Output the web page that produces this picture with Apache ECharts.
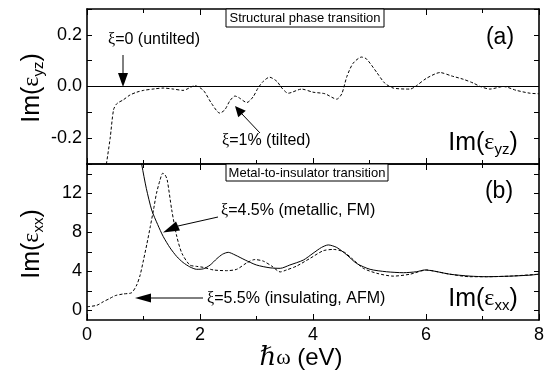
<!DOCTYPE html>
<html>
<head>
<meta charset="utf-8">
<script src="https://cdn.jsdelivr.net/npm/echarts@6/dist/echarts.min.js"></script>
<style>
  html, body { margin: 0; padding: 0; background: #fff; }
  #chart { width: 553px; height: 379px; }
</style>
</head>
<body>
<div id="chart"></div>
<script>
// photon energy axis (eV)
const energyLabels = [0, 2, 4, 6, 8];

// (a) Im(eps_yz)
const yzTicks = [-0.3, -0.2, -0.1, 0, 0.1, 0.2, 0.3];
const yzLabels = [-0.2, 0, 0.2];
const untiltedE = [0, 8];
const untiltedIm = [0, 0];
const tiltedE = [0.33, 0.41, 0.47, 0.53, 0.64, 0.76, 0.88, 1.0, 1.2, 1.35, 1.53, 1.7, 1.91, 2.06, 2.2, 2.35, 2.44, 2.53, 2.62, 2.68, 2.83, 2.94, 3.03, 3.12, 3.23, 3.36, 3.45, 3.56, 3.8, 4.0, 4.21, 4.42, 4.51, 4.6, 4.71, 4.86, 4.95, 5.13, 5.27, 5.42, 5.72, 5.83, 6.01, 6.25, 6.45, 6.66, 6.84, 6.96, 7.13, 7.37, 7.6, 7.84, 8.0];
const tiltedIm = [-0.32, -0.2, -0.09, -0.066, -0.052, -0.033, -0.022, -0.015, -0.009, -0.006, -0.01, -0.015, 0.003, -0.015, -0.064, -0.103, -0.09, -0.055, -0.037, -0.042, -0.062, -0.04, -0.005, 0.02, 0.036, 0.02, -0.006, -0.026, -0.01, -0.022, -0.028, -0.049, -0.028, 0.039, 0.09, 0.114, 0.106, 0.054, 0.013, -0.006, -0.01, 0.003, 0.032, 0.054, 0.041, 0.028, 0.013, 0, -0.01, 0, -0.015, -0.026, -0.028];

// (b) Im(eps_xx)
const xxTicks = [0, 2, 4, 6, 8, 10, 12, 14];
const xxLabels = [0, 4, 8, 12];
const metallicE = [0.95, 0.97, 1.05, 1.145, 1.25, 1.35, 1.47, 1.59, 1.7, 1.82, 1.94, 2.06, 2.18, 2.3, 2.4, 2.5, 2.62, 2.8, 3.0, 3.24, 3.42, 3.59, 3.83, 4.0, 4.15, 4.27, 4.42, 4.6, 4.77, 5.01, 5.3, 5.6, 5.83, 5.98, 6.13, 6.42, 6.78, 7.07, 7.49, 7.84, 8.0];
const metallicIm = [15.6, 14.9, 12.5, 10.28, 8.8, 7.55, 6.4, 5.5, 4.9, 4.45, 4.2, 4.25, 4.64, 5.3, 5.75, 5.94, 5.67, 5.15, 4.64, 4.35, 4.3, 4.64, 5.15, 5.84, 6.44, 6.7, 6.44, 5.67, 4.81, 4.2, 3.95, 3.85, 3.95, 4.13, 4.03, 3.7, 3.5, 3.44, 3.5, 3.6, 3.7];
const insulatingE = [0, 0.17, 0.29, 0.4, 0.5, 0.64, 0.79, 0.88, 0.94, 1.0, 1.06, 1.12, 1.18, 1.23, 1.29, 1.34, 1.38, 1.42, 1.5, 1.59, 1.68, 1.82, 1.94, 2.06, 2.24, 2.47, 2.65, 2.83, 2.97, 3.12, 3.27, 3.42, 3.53, 3.71, 3.95, 4.18, 4.36, 4.54, 4.71, 4.89, 5.13, 5.42, 5.72, 6.01, 6.19, 6.42, 6.78, 7.07, 7.49, 8.0];
const insulatingIm = [0.36, 0.5, 0.88, 1.2, 1.5, 1.67, 1.8, 2.59, 3.6, 5.15, 6.8, 8.57, 10.4, 12.0, 13.3, 14.05, 13.9, 13.36, 10.28, 7.55, 5.84, 4.64, 4.5, 4.4, 4.13, 4.06, 4.2, 4.87, 5.2, 5.04, 4.53, 3.93, 4.13, 4.53, 5.33, 6.1, 6.24, 6.0, 5.2, 4.3, 3.79, 3.5, 3.7, 4.13, 3.96, 3.7, 3.44, 3.44, 3.5, 3.7];

const SANS = '"Liberation Sans", Arial, sans-serif';
const SERIF = '"Liberation Serif", "DejaVu Serif", serif';
const frame = { lineStyle: { color: '#000', width: 1.6 } };

const zip = (xs, ys) => xs.map((x, i) => [x, ys[i]]);

function xAx(grid, pos, labels) {
  return {
    type: 'value', gridIndex: grid, position: pos, min: 0, max: 8, interval: 2,
    axisLine: { show: true, onZero: false, ...frame },
    axisTick: { show: true, inside: true, length: 6, lineStyle: { color: '#000', width: 1 } },
    minorTick: { show: true, splitNumber: 2, length: 4, lineStyle: { color: '#000', width: 1 } },
    axisLabel: labels ? { show: true, color: '#000', fontSize: 18, fontFamily: SANS, margin: 6 } : { show: false },
    splitLine: { show: false }
  };
}

function yAx(grid, pos, min, max, ticks, labels, fmt) {
  return {
    type: 'value', gridIndex: grid, position: pos, min: min, max: max,
    axisLine: { show: true, onZero: false, ...frame },
    axisTick: { show: true, inside: true, length: 5, customValues: ticks, lineStyle: { color: '#000', width: 1 } },
    axisLabel: labels
      ? { show: true, customValues: labels, color: '#000', fontSize: 18, fontFamily: SANS, margin: 5, formatter: fmt }
      : { show: false },
    splitLine: { show: false }
  };
}

const chart = echarts.init(document.getElementById('chart'));

function txt(x, y, text, size, extra) {
  return {
    type: 'text', x: x, y: y, z: 100,
    style: Object.assign({ text: text, fontSize: size, fontFamily: SANS, fill: '#000', align: 'left', verticalAlign: 'middle' }, extra || {})
  };
}

function imLabel(x, y, sub, rot) {
  return {
    type: 'text', x: x, y: y, z: 100, rotation: rot || 0,
    style: {
      text: '{a|Im(}{e|ε}{s|' + sub + '}{a|)}',
      align: 'center', verticalAlign: 'middle', fill: '#000',
      rich: {
        a: { fontSize: 25, fontFamily: SANS, fill: '#000' },
        e: { fontSize: 24, fontFamily: SERIF, fill: '#000' },
        s: { fontSize: 15, fontFamily: SANS, fill: '#000', padding: [14, 0, 0, 0] }
      }
    }
  };
}

function xiLabel(x, y, rest) {
  return {
    type: 'text', x: x, y: y, z: 100,
    style: {
      text: '{g|ξ}{t|' + rest + '}', align: 'left', verticalAlign: 'middle', fill: '#000',
      rich: {
        g: { fontSize: 16, fontFamily: SERIF, fill: '#000' },
        t: { fontSize: 16, fontFamily: SANS, fill: '#000' }
      }
    }
  };
}

function boxLabel(x, y, w, h, text) {
  return [
    { type: 'rect', z: 90, shape: { x: x, y: y, width: w, height: h }, style: { fill: '#fff', stroke: '#000', lineWidth: 1 } },
    txt(x + w / 2, y + h / 2 + 0.5, text, 13, { align: 'center' })
  ];
}

function arrow(x1, y1, bx, by, tip, half) {
  // shaft from (x1,y1) to base (bx,by), head ending at tip
  const dx = tip[0] - bx, dy = tip[1] - by;
  const len = Math.hypot(dx, dy);
  const nx = -dy / len * half, ny = dx / len * half;
  return [
    { type: 'line', z: 95, shape: { x1: x1, y1: y1, x2: bx, y2: by }, style: { stroke: '#000', lineWidth: 1 } },
    { type: 'polygon', z: 95, shape: { points: [[bx + nx, by + ny], [bx - nx, by - ny], tip] }, style: { fill: '#000' } }
  ];
}

chart.setOption({
  animation: false,
  backgroundColor: '#fff',
  grid: [
    { left: 87, top: 9, width: 452, height: 155 },
    { left: 87, top: 164, width: 452, height: 156 }
  ],
  xAxis: [
    xAx(0, 'bottom', false), xAx(0, 'top', false),
    xAx(1, 'bottom', true), xAx(1, 'top', false)
  ],
  yAxis: [
    yAx(0, 'left', -0.3, 0.3, yzTicks, yzLabels, v => v.toFixed(1)),
    yAx(0, 'right', -0.3, 0.3, yzTicks, null),
    yAx(1, 'left', -1, 15, xxTicks, xxLabels, v => String(v)),
    yAx(1, 'right', -1, 15, xxTicks, null)
  ],
  series: [
    {
      type: 'line', xAxisIndex: 0, yAxisIndex: 0, data: zip(untiltedE, untiltedIm),
      showSymbol: false, lineStyle: { color: '#000', width: 1 }
    },
    {
      type: 'line', xAxisIndex: 0, yAxisIndex: 0, data: zip(tiltedE, tiltedIm),
      showSymbol: false, smooth: 0.25, clip: true,
      lineStyle: { color: '#000', width: 1, type: [3, 2] }
    },
    {
      type: 'line', xAxisIndex: 2, yAxisIndex: 2, data: zip(metallicE, metallicIm),
      showSymbol: false, smooth: 0.25, clip: true,
      lineStyle: { color: '#000', width: 1 }
    },
    {
      type: 'line', xAxisIndex: 2, yAxisIndex: 2, data: zip(insulatingE, insulatingIm),
      showSymbol: false, smooth: 0.25, clip: true,
      lineStyle: { color: '#000', width: 1, type: [3, 2] }
    }
  ],
  graphic: [
    ...boxLabel(226, 9, 158, 18, 'Structural phase transition'),
    ...boxLabel(226, 164, 162, 17, 'Metal-to-insulator transition'),
    txt(500, 38, '(a)', 23, { align: 'center' }),
    txt(499, 192, '(b)', 23, { align: 'center' }),
    xiLabel(108, 40, '=0 (untilted)'),
    xiLabel(222, 141, '=1% (tilted)'),
    xiLabel(221, 211, '=4.5% (metallic, FM)'),
    xiLabel(207, 299, '=5.5% (insulating, AFM)'),
    ...arrow(123, 55, 123, 73, [123, 87], 5),
    ...arrow(260, 133, 242, 114, [235, 106], 5),
    ...arrow(218, 217, 178, 226, [163, 232.5], 5),
    ...arrow(203, 298, 151, 298, [135, 298], 4.5),
    imLabel(483, 143, 'yz'),
    imLabel(483, 299, 'xx'),
    imLabel(32, 88, 'yz', Math.PI / 2),
    imLabel(32, 244, 'xx', Math.PI / 2),
    {
      type: 'text', x: 301, y: 358, z: 100,
      style: {
        text: '{h|ℏ}{w|ω}{t| (eV)}', align: 'center', verticalAlign: 'middle', fill: '#000',
        rich: {
          h: { fontSize: 26, fontFamily: SERIF, fontStyle: 'italic', fill: '#000' },
          w: { fontSize: 22, fontFamily: SERIF, fill: '#000' },
          t: { fontSize: 24, fontFamily: SANS, fill: '#000' }
        }
      }
    }
  ]
});
</script>
</body>
</html>
